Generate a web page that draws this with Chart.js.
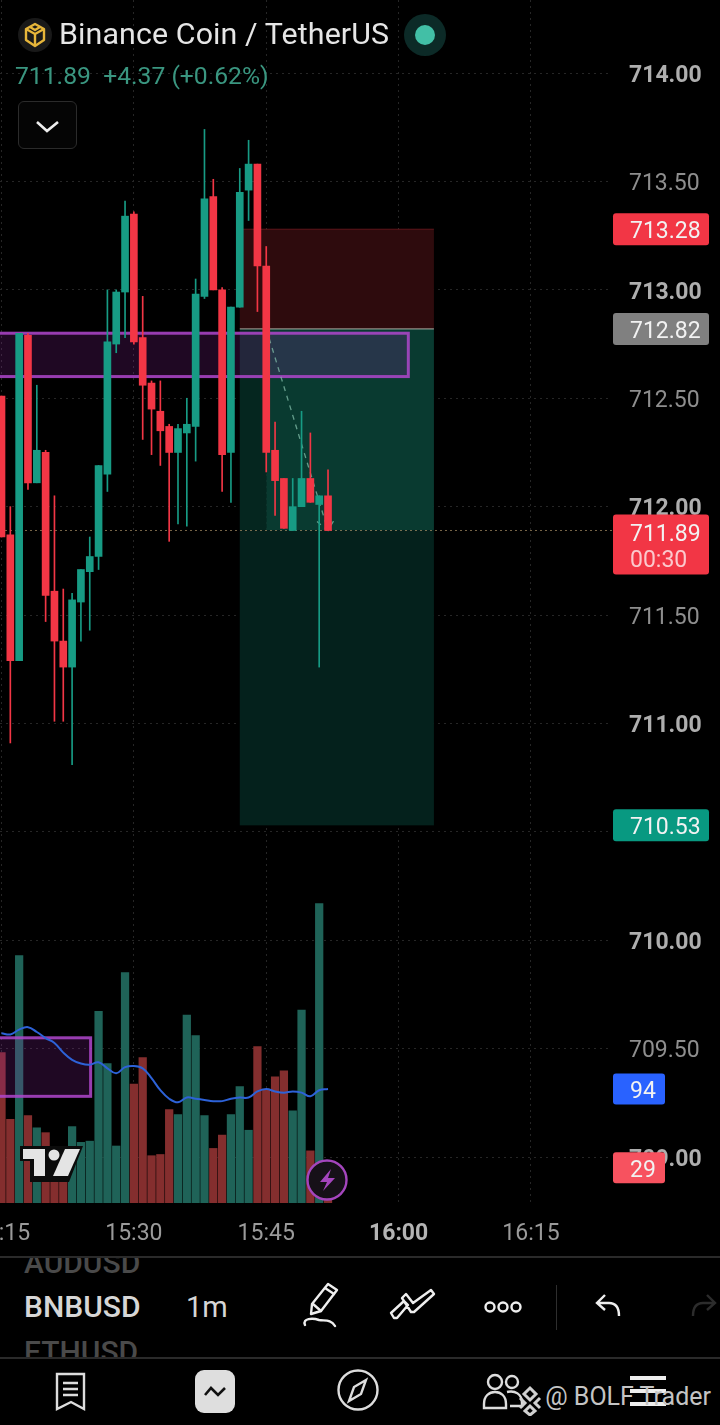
<!DOCTYPE html>
<html>
<head>
<meta charset="utf-8">
<title>BNBUSDT 1m</title>
<script src="https://cdn.jsdelivr.net/npm/chart.js@4"></script>
<style>
html,body{margin:0;padding:0;background:#000;width:720px;height:1425px;overflow:hidden;font-family:Roboto,sans-serif}
#wrap{position:absolute;left:0;top:0;width:720px;height:1257px}
.abs{position:absolute}
.title{left:59px;top:14px;font-size:30.4px;color:#e6e6e6;white-space:nowrap;line-height:40px;letter-spacing:.1px}
.quote{left:15px;top:60px;font-size:24.7px;color:#3a9680;white-space:nowrap;line-height:32px}
.btn{left:18px;top:101px;width:57px;height:46px;border:1.5px solid #2b2b2b;border-radius:6px;background:#050505}
.sym{font-weight:500;font-size:30px;color:#d6d6d6;white-space:nowrap}
.fade{font-size:30px;color:#4a4a4a;white-space:nowrap;font-weight:500}
.sep{left:0;width:720px;height:2px;background:#2a2a2a}
.mark{right:9px;top:1382px;font-size:25px;color:#c4c4c4;white-space:nowrap}
</style>
</head>
<body>
<div id="wrap"><canvas id="chart" width="720" height="1257"></canvas></div>

<!-- header -->
<svg class="abs" style="left:17px;top:17px" width="36" height="36" viewBox="0 0 36 36">
  <circle cx="18" cy="18" r="17" fill="#191919"/>
  <g fill="none" stroke="#e6b53a" stroke-width="2.4" stroke-linejoin="round">
    <path d="M18 7l9 5v11l-9 6-9-6V12z"/>
    <path d="M9 12l9 5 9-5M18 17v12M13 10l5 3 5-3"/>
  </g>
</svg>
<div class="abs title">Binance Coin / TetherUS</div>
<svg class="abs" style="left:404px;top:14px" width="42" height="42"><circle cx="21" cy="21" r="21" fill="#0c2a27"/><circle cx="21" cy="21" r="10" fill="#42bfa6"/></svg>
<div class="abs quote">711.89&nbsp; +4.37 (+0.62%)</div>
<div class="abs btn"><svg width="57" height="46"><path d="M18 20l10 9 11-9" fill="none" stroke="#eee" stroke-width="2.6"/></svg></div>

<!-- tradingview logo and bolt button on the chart -->
<svg class="abs" style="left:19px;top:1145px" width="66" height="37" viewBox="0 0 66 37">
  <path d="M1 1h63L50 37H11V16H1z" fill="#0b0b0b"/>
  <path d="M4 4h22v27H15V14H4z" fill="#e4e4e4"/>
  <circle cx="35" cy="10" r="5.5" fill="#e4e4e4"/>
  <path d="M46 4h15L49 31H34z" fill="#e4e4e4"/>
</svg>
<svg class="abs" style="left:306px;top:1159px" width="42" height="42" viewBox="0 0 42 42">
  <circle cx="21" cy="21" r="19.5" fill="#161018" stroke="#a445bd" stroke-width="2.4"/>
  <path d="M25 10L14 23h7l-4 9 12-13h-7z" fill="#a445bd"/>
</svg>

<!-- symbol toolbar -->
<div class="abs sep" style="top:1256px"></div>
<div class="abs" style="left:0;top:1258px;width:200px;height:100px;overflow:hidden">
  <div class="abs fade" style="left:24px;top:-13px">AUDUSD</div>
  <div class="abs sym" style="left:24px;top:31px">BNBUSD</div>
  <div class="abs fade" style="left:24px;top:76px">ETHUSD</div>
</div>
<div class="abs sym" style="left:186px;top:1290px;font-weight:400;font-size:29px">1m</div>
<svg class="abs" style="left:296px;top:1280px" width="60" height="50" viewBox="0 0 60 50" fill="none" stroke="#eee" stroke-width="2.4" stroke-linejoin="round" stroke-linecap="round">
  <path d="M16 24L32 4l9 6-16 21-10 3z"/><path d="M29 8l9 6M17 24l8 7"/>
  <path d="M9 45c-3-7 8-7 14-5 6 1 12-1 16 6"/>
</svg>
<svg class="abs" style="left:388px;top:1288px" width="48" height="36" viewBox="0 0 48 36" fill="none" stroke="#eee" stroke-width="2.4" stroke-linejoin="round">
  <path d="M3 25l13-12 4 4-11 13h-3zM18 6l7 9 18-13 3 4-20 18h-3l-9-14z"/>
</svg>
<svg class="abs" style="left:482px;top:1296px" width="42" height="22" fill="none" stroke="#eee" stroke-width="2.4">
  <circle cx="8" cy="11" r="4.5"/><circle cx="21" cy="11" r="4.5"/><circle cx="34" cy="11" r="4.5"/>
</svg>
<div class="abs" style="left:556px;top:1285px;width:1px;height:45px;background:#2e2e2e"></div>
<svg class="abs" style="left:594px;top:1292px" width="32" height="30" fill="none" stroke="#eee" stroke-width="2.4"><path d="M11 3L3 11l8 7M3 11h12c7 0 10 5 10 13"/></svg>
<svg class="abs" style="left:686px;top:1292px" width="32" height="30" fill="none" stroke="#2c2c2c" stroke-width="2.4"><path d="M21 3l8 8-8 7M29 11H17c-7 0-10 5-10 13"/></svg>
<div class="abs sep" style="top:1357px"></div>

<!-- bottom nav -->
<svg class="abs" style="left:54px;top:1372px" width="34" height="40" fill="none" stroke="#ddd" stroke-width="2.4"><path d="M3 2h27v35l-13-7-14 7zM9 11h15M9 17h15M9 23h15"/></svg>
<svg class="abs" style="left:195px;top:1370px" width="40" height="43"><rect width="40" height="43" rx="9" fill="#dedede"/><path d="M10 25l6-7 7 7 7-7" fill="none" stroke="#111" stroke-width="2.6"/></svg>
<svg class="abs" style="left:337px;top:1369px" width="42" height="42" fill="none" stroke="#ddd" stroke-width="2.4"><circle cx="21" cy="21" r="19.5"/><path d="M29 11L17 18l-5 14 12-7z"/></svg>
<svg class="abs" style="left:481px;top:1372px" width="50" height="40" fill="none" stroke="#ddd" stroke-width="2.4"><circle cx="14" cy="10" r="7"/><circle cx="31" cy="10" r="6"/><path d="M3 36v-4c0-8 5-12 11-12s11 4 11 12v4zM26 20c8-2 15 2 15 11v3H29"/></svg>
<svg class="abs" style="left:515px;top:1384px" width="30" height="32" fill="none" stroke="#d0d0d0" stroke-width="3"><path d="M15 4l6 6-6 6-6-6zM5 14l5 5-5 5M25 14l-5 5 5 5M15 22l5 5-5 4-5-4z"/></svg>
<svg class="abs" style="left:630px;top:1376px" width="38" height="30"><rect width="36" height="4" y="0" fill="#eee"/><rect width="36" height="4" y="13" fill="#eee"/><rect width="36" height="4" y="26" fill="#eee"/></svg>
<div class="abs mark">@ BOLF Trader</div>

<script>
// 1m candles, first one is 15:15
var opens = [712.51,711.87,711.29,712.79,712.11,712.25,711.61,711.38,711.26,711.56,711.70,711.77,712.15,712.75,712.99,713.35,712.78,712.57,712.44,712.37,712.25,712.34,712.37,712.97,713.43,713.00,712.25,712.92,713.46,713.58,713.11,712.26,712.13,711.89,712.00,712.13,712.01,712.05];
var closes = [711.86,711.29,712.80,712.11,712.26,711.59,711.38,711.26,711.57,711.71,711.77,712.19,712.76,712.99,713.34,712.76,712.56,712.45,712.35,712.25,712.36,712.38,712.98,713.42,713.00,712.24,712.92,713.45,713.58,713.11,712.25,712.12,711.90,712.00,712.13,712.02,712.05,711.89];
var highs = [712.51,712.00,712.80,712.80,712.56,712.26,712.05,711.62,711.60,711.71,711.86,712.19,713.00,713.00,713.41,713.36,712.97,712.58,712.58,712.38,712.38,712.50,713.05,713.74,713.51,713.01,712.92,713.56,713.69,713.58,713.20,712.39,712.13,712.13,712.44,712.34,712.05,712.17];
var lows = [711.86,710.91,711.29,712.08,712.11,711.47,711.01,711.01,710.81,711.38,711.43,711.71,712.07,712.71,712.78,712.75,712.31,712.24,712.19,711.84,711.92,711.91,712.21,712.96,713.00,712.07,712.02,712.92,713.32,712.90,712.16,711.96,711.90,711.89,712.00,712.02,711.26,711.89];
var volumes = [124,69,204,72,62,58,35,31,63,50,51,158,115,47,190,98,120,39,40,77,73,155,138,72,45,56,73,96,60,129,94,104,109,76,159,43,247,29];
var volumeMa = [140,139,143,145,141,136,132,124,118,115,114,116,111,107,112,113,111,103,93,86,83,87,86,85,84,84,86,87,87,92,94,92,91,92,91,88,93,94];

var priceTicks = [709,709.5,710,710.5,711,711.5,712,712.5,713,713.5,714];
var timeTicks = [0,15,30,45,60];
var timeLabels = ['15:15','15:30','15:45','16:00','16:15'];

// drawings, minutes from 15:15 and prices
var positionSpan = [27,49];
var positionStart = 30;
var stopPrice = 713.28, entryPrice = 712.82, targetPrice = 710.53, lastPrice = 711.89;
var upperZone = [-10,46.1,712.80,712.60];
var lowerZone = [-10,10.1,709.55,709.28];
var lastMinute = 37;

var green = '#179b84', red = '#f23645';
var volGreen = '#1f6358', volRed = '#842e2e';
var gridColor = '#262626';

var minutes = opens.map(function(v,i){ return i; });
var isUp = opens.map(function(v,i){ return closes[i] >= v; });

function rect(ctx,x1,y1,x2,y2,fill){
    ctx.fillStyle = fill;
    ctx.fillRect(x1,y1,x2-x1,y2-y1);
}

function drawZone(chart,z){
    var ctx = chart.ctx, sx = chart.scales.x, sy = chart.scales.y;
    var x1 = sx.getPixelForValue(z[0]), x2 = sx.getPixelForValue(z[1]);
    var y1 = sy.getPixelForValue(z[2]), y2 = sy.getPixelForValue(z[3]);
    ctx.fillStyle = 'rgba(156,39,176,0.20)';
    ctx.fillRect(x1,y1,x2-x1,y2-y1);
    ctx.strokeStyle = 'rgba(176,70,205,0.85)';
    ctx.lineWidth = 3;
    ctx.strokeRect(x1,y1,x2-x1,y2-y1);
}

// position box and rectangles go under the candles
var drawingsPlugin = {
    id: 'drawings',
    beforeDatasetDraw: function(chart,args){
        if (chart.data.datasets[args.index].label !== 'ma') return;
        var ctx = chart.ctx, sx = chart.scales.x, sy = chart.scales.y, a = chart.chartArea;
        var x1 = sx.getPixelForValue(positionSpan[0]), x2 = sx.getPixelForValue(positionSpan[1]);
        var xs = sx.getPixelForValue(positionStart);
        var yStop = sy.getPixelForValue(stopPrice), yEntry = sy.getPixelForValue(entryPrice);
        var yTarget = sy.getPixelForValue(targetPrice), yLast = sy.getPixelForValue(lastPrice);
        ctx.save();
        ctx.beginPath();
        ctx.rect(a.left,a.top,a.right-a.left,a.bottom-a.top);
        ctx.clip();
        rect(ctx,x1,yStop,x2,yEntry,'#2e0b0d');
        rect(ctx,x1,yEntry,xs,yLast,'#05261f');
        rect(ctx,xs,yEntry,x2,yLast,'#093a30');
        rect(ctx,x1,yLast,x2,yTarget,'#04211c');
        ctx.strokeStyle = 'rgba(240,240,230,0.55)';
        ctx.lineWidth = 1.2;
        ctx.beginPath();
        ctx.moveTo(x1,yEntry);
        ctx.lineTo(x2,yEntry);
        ctx.stroke();
        ctx.strokeStyle = 'rgba(242,54,69,0.3)';
        ctx.lineWidth = 1;
        ctx.beginPath();
        ctx.moveTo(x1,yStop);
        ctx.lineTo(x2,yStop);
        ctx.stroke();
        // last price line
        ctx.strokeStyle = 'rgba(200,170,120,0.6)';
        ctx.setLineDash([2,3]);
        ctx.beginPath();
        ctx.moveTo(a.left,yLast);
        ctx.lineTo(a.right,yLast);
        ctx.stroke();
        ctx.setLineDash([]);
        drawZone(chart,upperZone);
        drawZone(chart,lowerZone);
        // projected path of the trade
        var tx = sx.getPixelForValue(lastMinute), ty = sy.getPixelForValue(lastPrice);
        ctx.strokeStyle = 'rgba(130,190,170,0.75)';
        ctx.lineWidth = 1.3;
        ctx.setLineDash([5,5]);
        ctx.beginPath();
        ctx.moveTo(xs,yEntry);
        ctx.lineTo(tx,ty);
        ctx.moveTo(tx-11,ty-9);
        ctx.lineTo(tx,ty);
        ctx.lineTo(tx+7,ty-12);
        ctx.stroke();
        ctx.restore();
    },
    afterDraw: function(chart){
        var ctx = chart.ctx, sy = chart.scales.y, sv = chart.scales.y1, a = chart.chartArea;
        var left = a.right + 1;
        ctx.save();
        ctx.textBaseline = 'middle';
        ctx.font = '23px Roboto';
        function tag(y,h,w,fill,lines){
            ctx.fillStyle = fill;
            ctx.beginPath();
            ctx.roundRect(left,y-h/2,w,h,3);
            ctx.fill();
            lines.forEach(function(l){
                ctx.fillStyle = l.color || '#f2f2f2';
                ctx.textAlign = l.center ? 'center' : 'left';
                ctx.fillText(l.text, l.center ? left+w/2+4 : left+17, y+l.dy);
            });
        }
        tag(sy.getPixelForValue(stopPrice),32,96,red,[{text:stopPrice.toFixed(2),dy:3}]);
        tag(sy.getPixelForValue(entryPrice),32,96,'#808080',[{text:entryPrice.toFixed(2),dy:3}]);
        tag(sy.getPixelForValue(lastPrice)+14,60,96,red,[
            {text:lastPrice.toFixed(2),dy:-9},
            {text:'00:30',dy:17,color:'#fbc9cd'}
        ]);
        tag(sy.getPixelForValue(targetPrice),32,96,'#089981',[{text:targetPrice.toFixed(2),dy:3}]);
        tag(sv.getPixelForValue(volumeMa[volumeMa.length-1]),31,52,'#2962ff',[{text:String(volumeMa[volumeMa.length-1]),dy:3,center:true}]);
        tag(sv.getPixelForValue(volumes[volumes.length-1]),31,52,'#f7525f',[{text:String(volumes[volumes.length-1]),dy:3,center:true}]);
        ctx.restore();
    }
};

function points(fn){
    return minutes.map(function(m,i){ return {x:m,y:fn(i)}; });
}
function upDown(up,down){
    return isUp.map(function(u){ return u ? up : down; });
}
function wholePrice(c){ return c.tick && c.tick.value % 1 === 0; }
function boldTime(c){ return c.tick && c.tick.value === 45; }
// stops the layout from pulling the chart area in for the edge labels
function noLabelPadding(s){
    s.paddingLeft = s.paddingRight = s.paddingTop = s.paddingBottom = 0;
}

new Chart(document.getElementById('chart').getContext('2d'), {
    type: 'bar',
    plugins: [drawingsPlugin],
    data: {
        datasets: [
            {label:'volume',yAxisID:'y1',order:4,grouped:false,barThickness:7.6,borderWidth:0,
             data:points(function(i){ return volumes[i]; }),backgroundColor:upDown(volGreen,volRed)},
            {label:'ma',type:'line',yAxisID:'y1',order:3,borderColor:'#2d62d8',borderWidth:2,pointRadius:0,tension:0.4,
             data:points(function(i){ return volumeMa[i]; })},
            {label:'wick',yAxisID:'y',order:2,grouped:false,barThickness:1,borderWidth:0,
             data:points(function(i){ return [lows[i],highs[i]]; }),backgroundColor:upDown(green,red)},
            {label:'body',yAxisID:'y',order:1,grouped:false,barThickness:7,borderWidth:0,borderSkipped:false,
             data:points(function(i){ return [opens[i],closes[i]]; }),backgroundColor:upDown(green,red)}
        ]
    },
    options: {
        responsive: false,
        animation: false,
        devicePixelRatio: 1,
        layout: {padding:0},
        plugins: {legend:{display:false}, tooltip:{enabled:false}},
        scales: {
            x: {
                type:'linear', min:-0.17, max:69.18, offset:false,
                afterBuildTicks: function(s){ s.ticks = timeTicks.map(function(v){ return {value:v}; }); },
                afterFit: function(s){ s.height = 54; noLabelPadding(s); },
                grid:{color:gridColor, drawTicks:false, offset:false},
                border:{display:false, dash:[2,4]},
                ticks:{
                    autoSkip:false, maxRotation:0, padding:17,
                    color:function(c){ return boldTime(c) ? '#b4b4b4' : '#9a9a9a'; },
                    font:function(c){ return {family:'Roboto',size:23,weight:boldTime(c) ? '700' : '400'}; },
                    callback:function(v){ return timeLabels[timeTicks.indexOf(v)]; }
                }
            },
            y: {
                position:'right', min:708.788, max:714.337,
                afterBuildTicks: function(s){ s.ticks = priceTicks.map(function(v){ return {value:v}; }); },
                afterFit: function(s){ s.width = 108; noLabelPadding(s); },
                grid:{color:gridColor, drawTicks:false},
                border:{display:false, dash:[2,4]},
                ticks:{
                    padding:17, autoSkip:false, labelOffset:3,
                    color:function(c){ return wholePrice(c) ? '#aeaeae' : '#8e8e8e'; },
                    font:function(c){ return {family:'Roboto',size:23,weight:wholePrice(c) ? '700' : '400'}; },
                    callback:function(v){ return v.toFixed(2); }
                }
            },
            y1: {display:false, min:0, max:992}
        }
    }
});
</script>
</body>
</html>
